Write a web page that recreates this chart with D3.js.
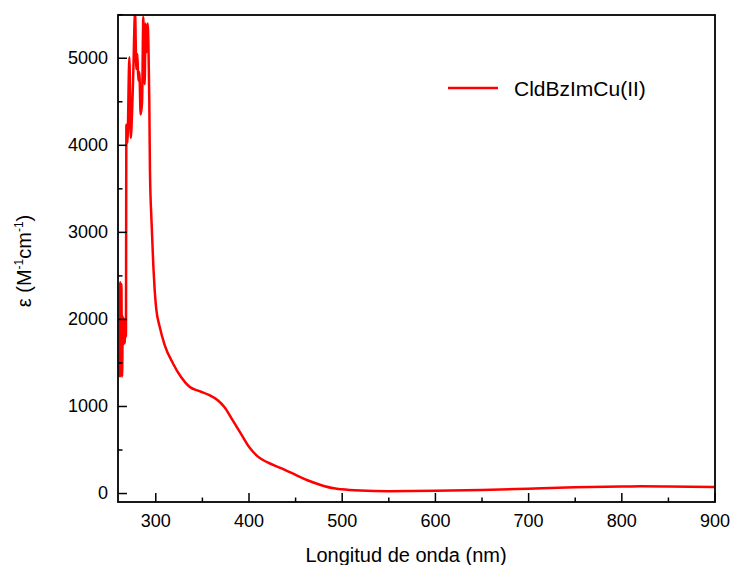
<!DOCTYPE html>
<html>
<head>
<meta charset="utf-8">
<script src="https://cdn.jsdelivr.net/npm/d3@7"></script>
<style>
  html, body { margin: 0; padding: 0; background: #fff; }
  svg { display: block; font-family: "Liberation Sans", Arial, sans-serif; }
</style>
</head>
<body>
<svg id="chart" width="731" height="565"></svg>
<script>
// UV-Vis absorption spectrum of CldBzImCu(II)
const seriesName = "CldBzImCu(II)";
const wavelength = [
  261.8, 262.3, 262.9, 263.6, 264.4, 265.2, 265.8, 266.6, 267.3, 268.0, 268.5,
  269.0, 269.6, 270.1, 272.2, 273.6, 275.1, 276.5, 278.3, 279.7, 280.8, 281.8,
  282.9, 284.3, 285.8, 287.2, 288.6, 289.6, 290.7, 291.8, 292.8, 293.6,
  294.3, 296.0, 297.9, 299.3, 301.1, 304.6, 310.0, 318.9, 327.8, 336.7, 347.4,
  358.1, 367.0, 374.1, 383.1, 392.0, 400.9, 409.8, 420.5, 434.8, 449.0, 463.3,
  477.5, 491.8, 500, 520, 550, 600, 650, 700, 750, 800, 820, 850, 900
];
const epsilon = [
  1330, 2420, 1500, 2400, 1340, 2030, 1700, 2000, 1720, 1950, 1800,
  4230, 4150, 4021, 5006, 4079, 4369, 4870, 5527, 4870, 5044, 4736,
  4832, 4349, 4484, 5469, 4697, 5392, 5064, 5392, 5064, 4484,
  3693, 3114, 2611, 2341, 2109, 1915, 1703, 1491, 1329, 1220, 1170,
  1124, 1066, 988, 834, 680, 525, 421, 351, 286, 217, 147,
  93, 54, 43, 28, 20, 25, 35, 50, 65, 75, 77, 75, 68
];
const xTicks = [300, 400, 500, 600, 700, 800, 900];
const xMinorTicks = [350, 450, 550, 650, 750, 850];
const yTicks = [0, 1000, 2000, 3000, 4000, 5000];
const yMinorTicks = [500, 1500, 2500, 3500, 4500, 5500];

const svg = d3.select("#chart");
const W = 731, H = 565;
const margin = { left: 118, right: 16, top: 15, bottom: 63 };
const x = d3.scaleLinear().domain([260, 900.5]).range([margin.left, W - margin.right]);
const y = d3.scaleLinear().domain([-103, 5491]).range([H - margin.bottom, margin.top]);

const data = wavelength.map((w, i) => ({ w, e: epsilon[i] }));

// clip path keeps the curve inside the frame
svg.append("clipPath").attr("id", "plot-clip")
  .append("rect")
  .attr("x", margin.left).attr("y", margin.top)
  .attr("width", W - margin.left - margin.right)
  .attr("height", H - margin.top - margin.bottom);

const line = d3.line()
  .x(d => x(d.w))
  .y(d => y(d.e))
  .curve(d3.curveMonotoneX);

svg.append("path")
  .datum(data)
  .attr("clip-path", "url(#plot-clip)")
  .attr("fill", "none")
  .attr("stroke", "#ff0000")
  .attr("stroke-width", 2.5)
  .attr("stroke-linejoin", "round")
  .attr("d", line);

// axes with inward ticks
const tickFont = 18;
const xAxis = svg.append("g")
  .attr("transform", `translate(0,${H - margin.bottom})`)
  .call(d3.axisBottom(x).tickValues(xTicks).tickSizeInner(-9).tickSizeOuter(0).tickPadding(12).tickFormat(d3.format("d")));
const xMinor = svg.append("g")
  .attr("transform", `translate(0,${H - margin.bottom})`)
  .call(d3.axisBottom(x).tickValues(xMinorTicks).tickSizeInner(-4.5).tickSizeOuter(0).tickFormat(""));
const yAxis = svg.append("g")
  .attr("transform", `translate(${margin.left},0)`)
  .call(d3.axisLeft(y).tickValues(yTicks).tickSizeInner(-9).tickSizeOuter(0).tickPadding(10).tickFormat(d3.format("d")));
const yMinor = svg.append("g")
  .attr("transform", `translate(${margin.left},0)`)
  .call(d3.axisLeft(y).tickValues(yMinorTicks).tickSizeInner(-4.5).tickSizeOuter(0).tickFormat(""));

[xAxis, xMinor, yAxis, yMinor].forEach(g => {
  g.select(".domain").remove();
  g.selectAll("line").attr("stroke", "#000").attr("stroke-width", 1.5);
  g.selectAll("text").attr("font-size", tickFont).attr("fill", "#000")
    .attr("font-family", "'Liberation Sans', Arial, sans-serif");
});

// frame
svg.append("rect")
  .attr("x", margin.left).attr("y", margin.top)
  .attr("width", W - margin.left - margin.right)
  .attr("height", H - margin.top - margin.bottom)
  .attr("fill", "none").attr("stroke", "#000").attr("stroke-width", 1.8);

// axis titles
svg.append("text")
  .attr("x", 406)
  .attr("y", 562)
  .attr("text-anchor", "middle")
  .attr("font-size", 20)
  .text("Longitud de onda (nm)");

const yTitle = svg.append("text")
  .attr("transform", `translate(31,261) rotate(-90)`)
  .attr("text-anchor", "middle")
  .attr("font-size", 20);
yTitle.append("tspan").text("ε (M");
yTitle.append("tspan").attr("font-size", 12).attr("dy", -8).text("-1");
yTitle.append("tspan").attr("dy", 8).text("cm");
yTitle.append("tspan").attr("font-size", 12).attr("dy", -8).text("-1");
yTitle.append("tspan").attr("dy", 8).text(")");

// legend
const legend = svg.append("g").attr("transform", "translate(448,88)");
legend.append("line")
  .attr("x1", 0).attr("x2", 50).attr("y1", 0).attr("y2", 0)
  .attr("stroke", "#ff0000").attr("stroke-width", 2.5);
legend.append("text")
  .attr("x", 66).attr("y", 7.5)
  .attr("font-size", 21)
  .text(seriesName);
</script>
</body>
</html>
